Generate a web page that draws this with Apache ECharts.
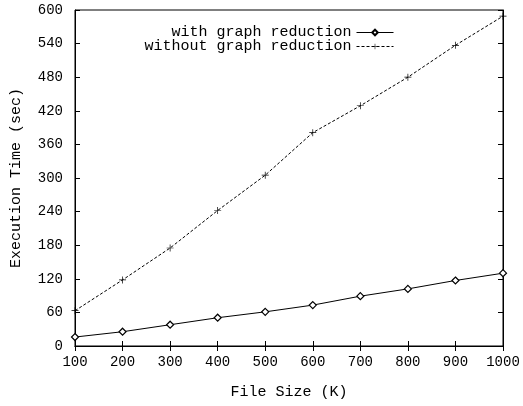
<!DOCTYPE html>
<html><head><meta charset="utf-8">
<script src="https://cdn.jsdelivr.net/npm/echarts@6/dist/echarts.min.js"></script>
<style>html,body{margin:0;padding:0;background:#fff}#c{width:523px;height:406px}</style>
</head><body><div id="c"></div>
<script>
var fileSizes = [100, 200, 300, 400, 500, 600, 700, 800, 900, 1000];
var withReduction = [16, 25.5, 38, 50.5, 61, 73, 89, 102, 117, 130];
var withoutReduction = [63, 118, 175, 242, 305, 381, 429, 480, 537, 589];
var seriesNames = ['with graph reduction', 'without graph reduction'];
var xTitle = 'File Size (K)';
var yTitle = 'Execution Time (sec)';

var FONT = 'Liberation Mono';
var plus = 'path://M4.5,0H5.5V4.5H10V5.5H5.5V10H4.5V5.5H0V4.5H4.5Z';
function pairs(v){ return fileSizes.map(function(x,i){ return [x, v[i]]; }); }
function plain(v){ return String(v); }

var legendBase = {
  orient: 'vertical', right: 124, align: 'right',
  itemWidth: 37, itemHeight: 7, itemGap: 4,
  lineStyle: {width: 1},
  textStyle: {fontFamily: FONT, fontSize: 15, color: '#000'}
};

var chart = echarts.init(document.getElementById('c'), null, {renderer:'canvas'});
chart.setOption({
  animation: false,
  backgroundColor: '#fff',
  textStyle: {fontFamily: FONT, color: '#000'},
  grid: {left: 75, right: 20, top: 10, bottom: 60, show: true, borderColor: '#000', borderWidth: 1,
         containLabel: false, outerBoundsMode: 'none'},
  legend: [
    Object.assign({}, legendBase, {data: [seriesNames[0]], top: 20}),
    Object.assign({}, legendBase, {data: [seriesNames[1]], top: 34})
  ],
  xAxis: [{
    type: 'value', min: 100, max: 1000, interval: 100,
    name: xTitle, nameLocation: 'middle', nameGap: 39,
    nameTextStyle: {fontFamily: FONT, fontSize: 15, color: '#000'},
    axisLine: {show: true, lineStyle: {color: '#000', width: 1}},
    axisTick: {show: true, inside: true, length: 5, lineStyle: {color: '#000'}},
    axisLabel: {fontFamily: FONT, fontSize: 14, color: '#000', margin: 9, formatter: plain},
    splitLine: {show: false}
  },{
    type: 'value', min: 100, max: 1000, interval: 100, position: 'top',
    axisLine: {show: true, lineStyle: {color: '#000'}},
    axisTick: {show: true, inside: true, length: 5, lineStyle: {color: '#000'}},
    axisLabel: {show: false}, splitLine: {show: false}
  }],
  yAxis: [{
    type: 'value', min: 0, max: 600, interval: 60,
    name: yTitle, nameLocation: 'middle', nameGap: 51, nameRotate: 90,
    nameTextStyle: {fontFamily: FONT, fontSize: 15, color: '#000'},
    axisLine: {show: true, lineStyle: {color: '#000', width: 1}},
    axisTick: {show: true, inside: true, length: 5, lineStyle: {color: '#000'}},
    axisLabel: {fontFamily: FONT, fontSize: 14, color: '#000', margin: 12, formatter: plain},
    splitLine: {show: false}
  },{
    type: 'value', min: 0, max: 600, interval: 60, position: 'right',
    axisLine: {show: true, lineStyle: {color: '#000'}},
    axisTick: {show: true, inside: true, length: 5, lineStyle: {color: '#000'}},
    axisLabel: {show: false}, splitLine: {show: false}
  }],
  series: [{
    name: seriesNames[0], type: 'line', data: pairs(withReduction),
    symbol: 'diamond', symbolSize: 7, showAllSymbol: true,
    lineStyle: {color: '#000', width: 1},
    itemStyle: {color: '#fff', borderColor: '#000', borderWidth: 1.2}
  },{
    name: seriesNames[1], type: 'line', data: pairs(withoutReduction),
    symbol: plus, symbolSize: 7, showAllSymbol: true,
    lineStyle: {color: '#000', width: 1, type: [3, 2]},
    itemStyle: {color: '#000', borderWidth: 0}
  }]
});
</script></body></html>
